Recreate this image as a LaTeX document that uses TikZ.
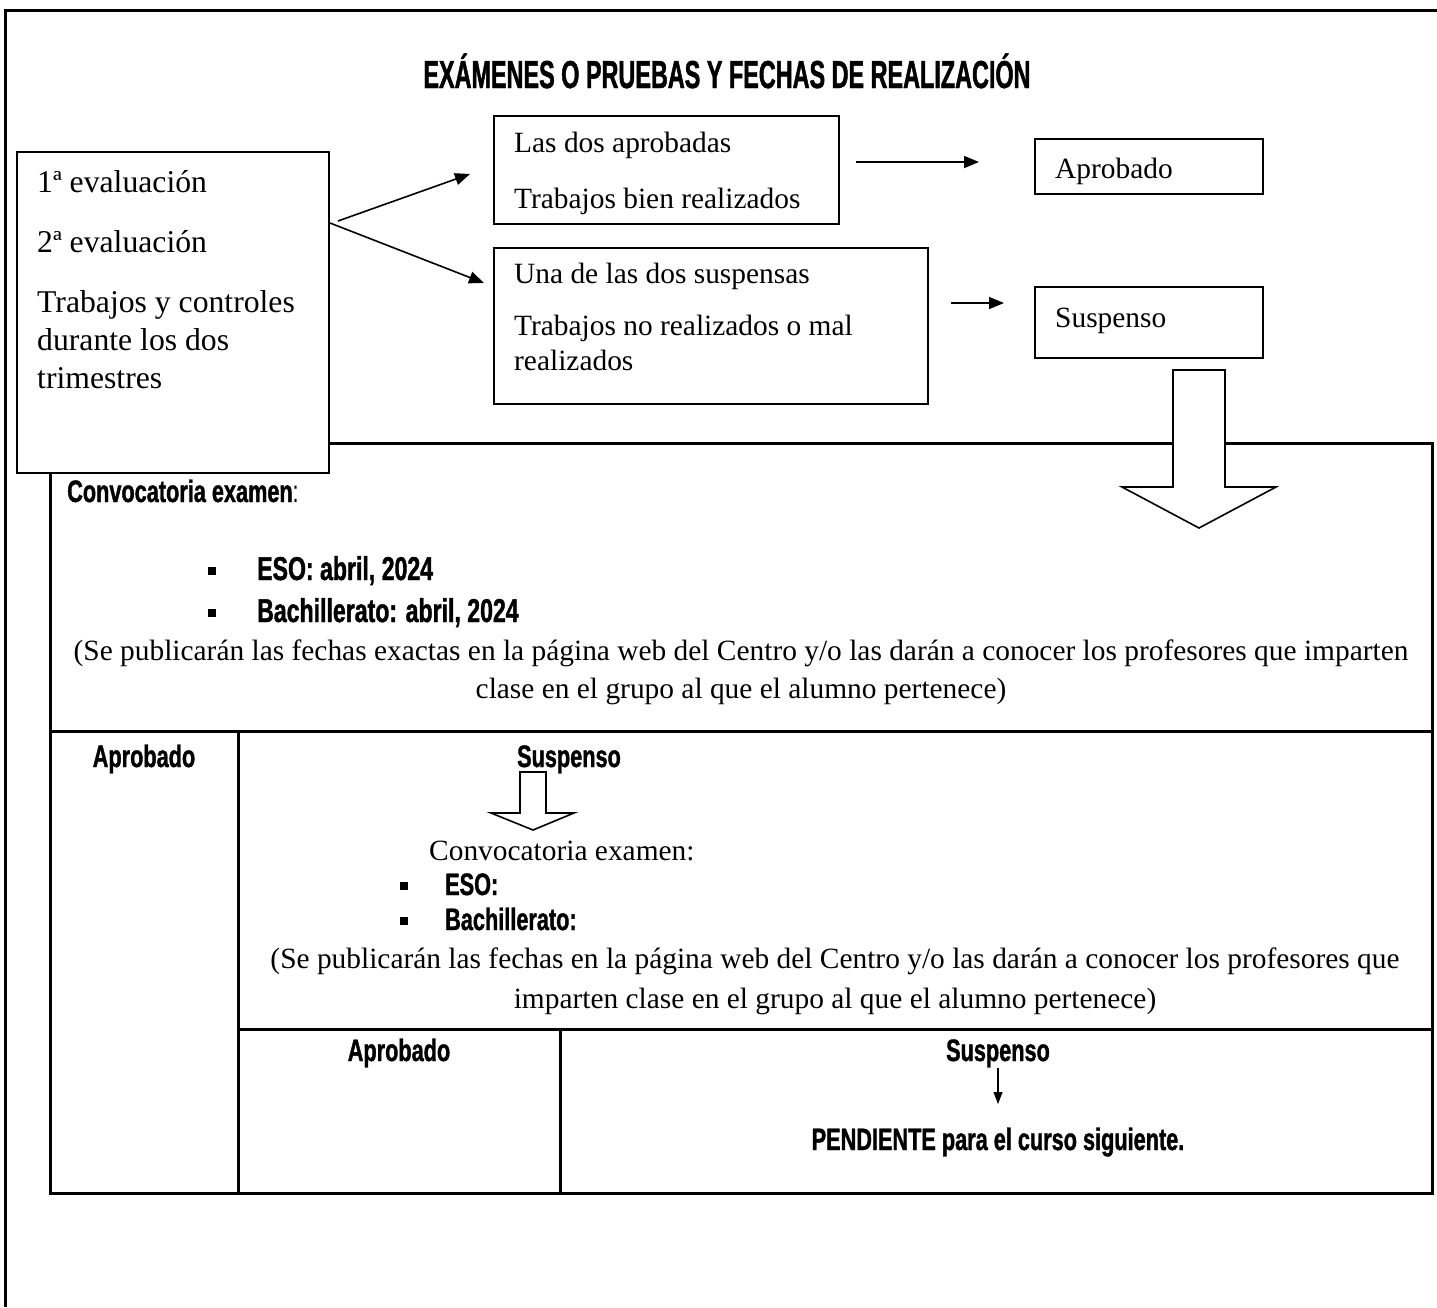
\documentclass[tikz,border=0pt]{standalone}
\usepackage{fontspec}
\setmainfont{Liberation Serif}
\newfontfamily\agency[FakeStretch=0.7, BoldFeatures={FakeBold=1.2}]{Liberation Sans}
\newfontfamily\agencytitle[FakeStretch=0.6, BoldFeatures={FakeBold=1.2}]{Liberation Sans}
\usetikzlibrary{arrows.meta}
\begin{document}
\begin{tikzpicture}[x=1pt,y=-1pt,
  box/.style={draw, line width=1.6pt, fill=white, inner sep=0, anchor=north west},
  arr/.style={line width=1.6pt, -{Triangle[length=15pt,width=12pt]}},
  tline/.style={line width=3pt},
  ser/.style={font=\fontsize{29.4}{34}\selectfont, inner sep=0},
  serL/.style={font=\fontsize{31.7}{36}\selectfont, inner sep=0},
  ag/.style={font=\agency\bfseries\fontsize{31}{36}\selectfont, inner sep=0},
  agB/.style={font=\agency\bfseries\fontsize{33}{38}\selectfont, inner sep=0},
  hollow/.style={draw, line width=1.6pt, fill=white, line join=miter},
  bul/.style={fill=black, minimum size=8pt, inner sep=0},
]
\useasboundingbox (0,0) rectangle (1437,1307);
% outer frame
\draw[tline] (5,1307) -- (5,10) -- (1437,10);
% title
\node[inner sep=0, anchor=base, font=\agencytitle\bfseries\fontsize{39}{44}\selectfont] (title) at (727,88) {EXÁMENES O PRUEBAS Y FECHAS DE REALIZACIÓN};

% table
\draw[tline] (50,443) rectangle (1432,1193);
\draw[tline] (50,731) -- (1432,731);
\draw[tline] (238,731) -- (238,1193);
\draw[tline] (238,1029) -- (1432,1029);
\draw[tline] (560,1029) -- (560,1193);

% left box
\node[box, minimum width=312pt, minimum height=321pt] (L) at (16,151) {};
\node[serL, anchor=base west] (l1) at (37,192) {1ª evaluación};
\node[serL, anchor=base west] (l2) at (37,252) {2ª evaluación};
\node[serL, anchor=base west] (l3) at (37,312) {Trabajos y controles};
\node[serL, anchor=base west] (l4) at (37,350) {durante los dos};
\node[serL, anchor=base west] (l5) at (37,388) {trimestres};

% box A
\node[box, minimum width=345pt, minimum height=108pt] (A) at (493,115) {};
\node[ser, anchor=base west] (a1) at (514,152) {Las dos aprobadas};
\node[ser, anchor=base west] (a2) at (514,208) {Trabajos bien realizados};
% box B
\node[box, minimum width=434pt, minimum height=156pt] (B) at (493,247) {};
\node[ser, anchor=base west] (b1) at (514,283) {Una de las dos suspensas};
\node[ser, anchor=base west] (b2) at (514,335) {Trabajos no realizados o mal};
\node[ser, anchor=base west] (b3) at (514,370) {realizados};
% result boxes
\node[box, minimum width=228pt, minimum height=55pt] (AP) at (1034,138) {};
\node[ser, anchor=base west] (apt) at (1055,178) {Aprobado};
\node[box, minimum width=228pt, minimum height=71pt] (SU) at (1034,286) {};
\node[ser, anchor=base west] (sut) at (1055,327) {Suspenso};

% arrows
\coordinate (s1) at (338,221); \coordinate (e1) at (470,174);
\coordinate (s2) at (330,223); \coordinate (e2) at (484,283);
\coordinate (s3) at (856,162); \coordinate (e3) at (979,162);
\coordinate (s4) at (951,303); \coordinate (e4) at (1004,303);
\draw[arr] (s1) -- (e1);
\draw[arr] (s2) -- (e2);
\draw[arr] (s3) -- (e3);
\draw[arr] (s4) -- (e4);

% big hollow arrow
\draw[hollow] (1173,370) -- (1225,370) -- (1225,487) -- (1276,487) -- (1199,528) -- (1122,487) -- (1173,487) -- cycle;

% row 1
\node[ag, anchor=base west] (c1) at (67,502) {Convocatoria examen\textmd{:}};
\node[bul] (bu1) at (212,571) {};
\node[agB, anchor=base west] (eso1) at (257,580) {ESO: abril, 2024};
\node[bul] (bu2) at (212,613) {};
\node[agB, anchor=base west] (bach1) at (257,622) {Bachillerato: abril, 2024};
\node[ser, anchor=base] (p1) at (741,660) {(Se publicarán las fechas exactas en la página web del Centro y/o las darán a conocer los profesores que imparten};
\node[ser, anchor=base] (p2) at (741,698) {clase en el grupo al que el alumno pertenece)};

% row 2
\node[ag, anchor=base] (apr2) at (144,767) {Aprobado};
\node[ag, anchor=base] (sus2) at (569,767) {Suspenso};
\draw[hollow] (520,772) -- (546,772) -- (546,813) -- (574,813) -- (533,830) -- (491,813) -- (520,813) -- cycle;
\node[ser, anchor=base west] (c2) at (429,860) {Convocatoria examen:};
\node[bul] (bu3) at (404,886) {};
\node[ag, anchor=base west] (eso2) at (445,895) {ESO:};
\node[bul] (bu4) at (404,921) {};
\node[ag, anchor=base west] (bach2) at (445,930) {Bachillerato:};
\node[ser, anchor=base] (p3) at (835,968) {(Se publicarán las fechas en la página web del Centro y/o las darán a conocer los profesores que};
\node[ser, anchor=base] (p4) at (835,1008) {imparten clase en el grupo al que el alumno pertenece)};

% row 3
\node[ag, anchor=base] (apr3) at (399,1061) {Aprobado};
\node[ag, anchor=base] (sus3) at (998,1061) {Suspenso};
\node[ag, anchor=base] (pend) at (998,1150) {PENDIENTE para el curso siguiente.};
\draw[line width=1.2pt, -{Triangle[length=12pt,width=9pt]}] (sus3.south |- 0,1068) -- (pend.north |- 0,1104);
\end{tikzpicture}
\end{document}
